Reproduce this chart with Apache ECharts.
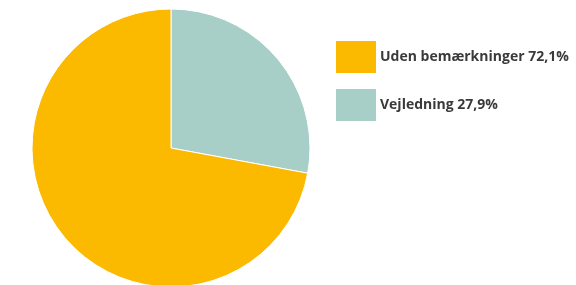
<!DOCTYPE html>
<html>
<head>
<meta charset="utf-8">
<script src="https://cdn.jsdelivr.net/npm/echarts@6/dist/echarts.min.js"></script>
<style>
  html, body { margin: 0; padding: 0; background: #fff; }
  #chart { width: 576px; height: 285px; }
</style>
</head>
<body>
<div id="chart"></div>
<script>
// slices, in the order they are drawn clockwise from 12 o'clock
const names = ['Vejledning', 'Uden bemærkninger']
const values = [27.9, 72.1]
const colors = ['#a7cfc7', '#fbb900']
// legend order
const legendOrder = ['Uden bemærkninger', 'Vejledning']

const chart = echarts.init(document.getElementById('chart'))

const fmt = (v) => v.toFixed(1).replace('.', ',') + '%'

chart.setOption({
  animation: false,
  legend: {
    orient: 'vertical',
    left: 336,
    top: 41,
    padding: 0,
    itemWidth: 40,
    itemHeight: 32,
    itemGap: 16,
    icon: 'rect',
    itemStyle: { borderWidth: 0 },
    data: legendOrder,
    formatter: (name) => name + ' ' + fmt(values[names.indexOf(name)]),
    textStyle: {
      fontFamily: 'Open Sans',
      fontWeight: 'bold',
      fontSize: 14,
      color: '#3a3a3a',
      padding: [0, 0, 0, -1]
    },
    selectedMode: false
  },
  series: [{
    type: 'pie',
    center: [171, 148],
    radius: 139,
    startAngle: 90,
    clockwise: true,
    label: { show: false },
    labelLine: { show: false },
    emphasis: { disabled: true },
    itemStyle: { borderColor: '#fff', borderWidth: 1 },
    data: names.map((n, i) => ({ name: n, value: values[i], itemStyle: { color: colors[i] } }))
  }]
})
</script>
</body>
</html>
